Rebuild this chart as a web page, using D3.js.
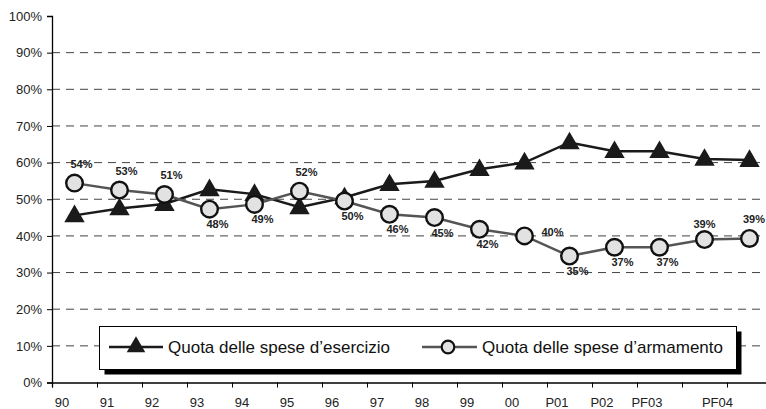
<!DOCTYPE html>
<html><head><meta charset="utf-8">
<script src="https://cdn.jsdelivr.net/npm/d3@7"></script>
<style>
body{margin:0;background:#fff;}
svg{display:block;font-family:"Liberation Sans",Arial,sans-serif;}
</style></head>
<body><svg id="c" width="766" height="409"></svg>
<script>
// ---- data ----
const categories = ["90","91","92","93","94","95","96","97","98","99","00","P01","P02","PF03","","PF04"];
const esercizio = [45.6,47.5,48.7,52.7,51.4,47.8,50.5,54.1,55.0,58.2,60.0,65.5,63.1,63.1,61.0,60.7];
const armamento = [54.4,52.5,51.3,47.3,48.6,52.2,49.5,45.9,45.0,41.8,40.0,34.5,36.9,36.9,39.0,39.3];
const armamentoLabels = ["54%","53%","51%","48%","49%","52%","50%","46%","45%","42%","40%","35%","37%","37%","39%","39%"];
const armamentoLabelPlace = ["above","above","above","below","below","above","below","below","below","below","right","below","below","below","aboveLeft","above"];
const yTicks = [0,10,20,30,40,50,60,70,80,90,100];
const seriesNames = ["Quota delle spese d\u2019esercizio","Quota delle spese d\u2019armamento"];

// ---- layout ----
const svg = d3.select("#c");
const W = 766, H = 409;
const left = 52, bandW = 45, n = categories.length;
const x = d3.scaleLinear().domain([0, n]).range([left, left + bandW * n]);
const y = d3.scaleLinear().domain([0, 100]).range([382.5, 16]);
const cx = i => x(i + 0.5);

// gridlines
svg.append("g").selectAll("line").data(yTicks.filter(v => v > 0 && v < 100)).join("line")
  .attr("x1", left).attr("x2", W).attr("y1", d => y(d)).attr("y2", d => y(d))
  .attr("stroke", "#444").attr("stroke-width", 1).attr("stroke-dasharray", "8,6");

// y axis
const ya = svg.append("g").attr("transform", `translate(${left},0)`)
  .call(d3.axisLeft(y).tickValues(yTicks).tickSize(5).tickPadding(5).tickFormat(d => d + "%"));
ya.select(".domain").attr("stroke", "#000").attr("stroke-width", 1.3);
ya.selectAll(".tick line").attr("stroke", "#000");
ya.selectAll("text").attr("font-size", 13).attr("fill", "#222").attr("font-family", "Liberation Sans, Arial, sans-serif");

// x axis
const xa = svg.append("g").attr("transform", `translate(0,${y(0)})`)
  .call(d3.axisBottom(x).tickValues(d3.range(0, n + 1)).tickSize(5).tickFormat(""));
xa.select(".domain").attr("stroke", "#000").attr("stroke-width", 1.3);
xa.selectAll(".tick line").attr("stroke", "#000");

// x labels (shifted left within band as in original; clamped to the page)
svg.append("g").selectAll("text").data(categories).join("text")
  .text(d => d)
  .attr("font-size", 13).attr("fill", "#222")
  .attr("y", y(0) + 24)
  .attr("text-anchor", "middle")
  .attr("x", function(d, i){
    let px = cx(i) - 12.5;
    const w = this.getComputedTextLength ? this.getComputedTextLength() : 0;
    if (px + w / 2 > 733) px = 733 - w / 2;
    return px;
  });

// series: esercizio (triangles)
const line = d3.line().x((d, i) => cx(i)).y(d => y(d));
svg.append("path").datum(esercizio).attr("d", line)
  .attr("fill", "none").attr("stroke", "#1a1a1a").attr("stroke-width", 2.5);
const tri = d3.symbol().type(d3.symbolTriangle).size(180);
svg.append("g").selectAll("path").data(esercizio).join("path")
  .attr("d", tri).attr("transform", (d, i) => `translate(${cx(i)},${y(d) + 1})`)
  .attr("fill", "#1a1a1a");

// series: armamento (circles)
svg.append("path").datum(armamento).attr("d", line)
  .attr("fill", "none").attr("stroke", "#555").attr("stroke-width", 2.5);
svg.append("g").selectAll("circle").data(armamento).join("circle")
  .attr("cx", (d, i) => cx(i)).attr("cy", d => y(d)).attr("r", 8.3)
  .attr("fill", "#e2e2e2").attr("stroke", "#111").attr("stroke-width", 2.4);

// data labels
const off = {above:[7,-15], below:[8,19], right:[28,0], aboveLeft:[0,-12]};
svg.append("g").selectAll("text").data(armamento).join("text")
  .text((d, i) => armamentoLabels[i])
  .attr("text-anchor", "middle").attr("font-size", 11).attr("font-weight", "bold").attr("fill", "#222")
  .attr("y", (d, i) => y(d) + off[armamentoLabelPlace[i]][1])
  .attr("x", function(d, i){
    let px = cx(i) + off[armamentoLabelPlace[i]][0];
    const w = this.getComputedTextLength ? this.getComputedTextLength() : 0;
    if (px + w / 2 > W - 1) px = W - 1 - w / 2;
    return px;
  });

// legend
const lg = svg.append("g");
const lx = 99.5, ly = 326.5, lw = 637, lh = 43;
lg.append("rect").attr("x", lx + 5).attr("y", ly + 5).attr("width", lw).attr("height", lh).attr("fill", "#000");
lg.append("rect").attr("x", lx).attr("y", ly).attr("width", lw).attr("height", lh).attr("fill", "#fff").attr("stroke", "#000").attr("stroke-width", 1);
const lyc = ly + 20.5;
// item 1
lg.append("line").attr("x1", 109).attr("x2", 163).attr("y1", lyc).attr("y2", lyc).attr("stroke", "#1a1a1a").attr("stroke-width", 2.5);
lg.append("path").attr("d", d3.symbol().type(d3.symbolTriangle).size(150)).attr("transform", `translate(136,${lyc})`).attr("fill", "#1a1a1a");
lg.append("text").attr("x", 168).attr("y", lyc + 6).attr("font-size", 17).attr("fill", "#111").text(seriesNames[0]);
// item 2
lg.append("line").attr("x1", 422).attr("x2", 477).attr("y1", lyc).attr("y2", lyc).attr("stroke", "#555").attr("stroke-width", 2.5);
lg.append("circle").attr("cx", 448).attr("cy", lyc).attr("r", 6.3).attr("fill", "#e2e2e2").attr("stroke", "#111").attr("stroke-width", 2.2);
lg.append("text").attr("x", 482).attr("y", lyc + 6).attr("font-size", 17).attr("fill", "#111").text(seriesNames[1]);
</script>
</body></html>
